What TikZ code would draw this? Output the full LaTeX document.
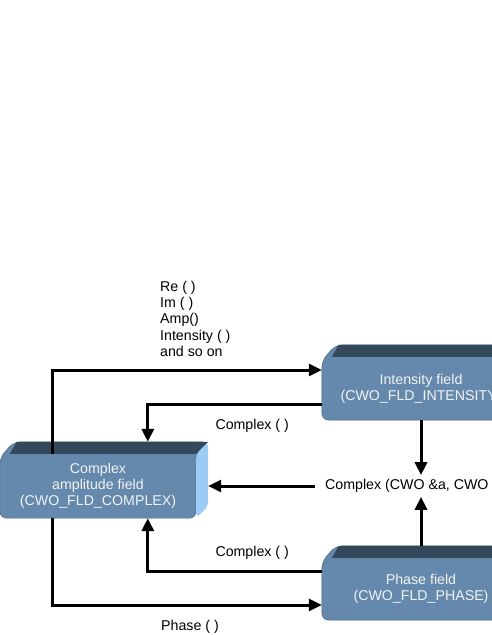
\documentclass[tikz,border=0pt]{standalone}
\usepackage{fontspec}
\setmainfont{Liberation Sans}
\usetikzlibrary{arrows.meta, positioning, calc, backgrounds}
\definecolor{steel}{HTML}{6589AD}
\definecolor{slatetop}{HTML}{34485C}
\definecolor{skyside}{HTML}{9CCBF5}
\definecolor{fldtext}{HTML}{F2F2F2}

\begin{document}
\begin{tikzpicture}[
    x=1pt, y=-1pt,
    fld/.style={minimum width=198pt, minimum height=63pt, align=center, text=fldtext, inner sep=0pt, font=\fontsize{14.2}{16.3}\selectfont},
    lab/.style={font=\fontsize{14.2}{16.3}\selectfont, inner sep=3.3pt},
    flow/.style={-{Triangle[length=13pt, width=12pt]}, line width=3pt}
  ]
  \useasboundingbox (0,0) rectangle (491,635);

  % field boxes
  \node[fld, minimum width=196pt, minimum height=64pt] (cplx) at (98,486) {Complex\\amplitude field\\(CWO\_FLD\_COMPLEX)};
  \node[fld] (int) at (421,388.5) {Intensity field\\(CWO\_FLD\_INTENSITY)};
  \node[fld, minimum height=62pt] (pha) at (421,589) {Phase field\\(CWO\_FLD\_PHASE)};

  \begin{scope}[on background layer]
    \foreach \b in {cplx, int, pha} {
      \filldraw[steel, draw=steel!70!black, line width=0.5pt, rounded corners=7pt]
        (\b.south east) -- (\b.south west) -- ($(\b.north west)+(0,4)$) -- ($(\b.north west)+(14,-12)$)
        -- ($(\b.north east)+(12,-12)$) -- (\b.north east) -- cycle;
      \fill[slatetop] ($(\b.north west)+(17,-12)$) -- ($(\b.north east)+(12,-12)$) -- (\b.north east) -- ($(\b.north west)+(10,0)$) -- cycle;
    }
    \fill[skyside, rounded corners=5pt] (cplx.north east) -- ($(cplx.north east)+(12,-12)$) -- ($(cplx.south east)+(12,-12)$) -- (cplx.south east) -- cycle;
  \end{scope}

  % labels
  \node[lab, align=left, anchor=west] (fns) at (156.7,318.8) {Re ( )\\Im ( )\\Amp()\\Intensity ( )\\and so on};
  \node[lab, anchor=west, inner xsep=10pt, inner ysep=4pt] (mid) at (315,486) {Complex (CWO \&a, CWO};

  % conversions
  \draw[flow] ([xshift=53pt]cplx.north west) |- ([yshift=18.5pt]int.west);
  \draw[flow] ([yshift=-15.5pt]int.west) -| node[lab, below=10pt, pos=0.2]{Complex ( )} ($(cplx.north west)+(148,-12)$);
  \draw[flow] (int.south) -- (mid.north -| int.south);
  \draw[flow] ([yshift=12pt]pha.north) -- (mid.south -| pha.north);
  \draw[flow] (mid.west) -- ([xshift=12pt]cplx.east);
  \draw[flow] ([yshift=18pt]pha.west) -| node[lab, above=6.5pt, pos=0.2]{Complex ( )} ([xshift=148pt]cplx.south west);
  \draw[flow] ([xshift=53pt]cplx.south west) |- node[lab, below=10pt, pos=0.755]{Phase ( )} ([yshift=-16pt]pha.west);
\end{tikzpicture}
\end{document}
